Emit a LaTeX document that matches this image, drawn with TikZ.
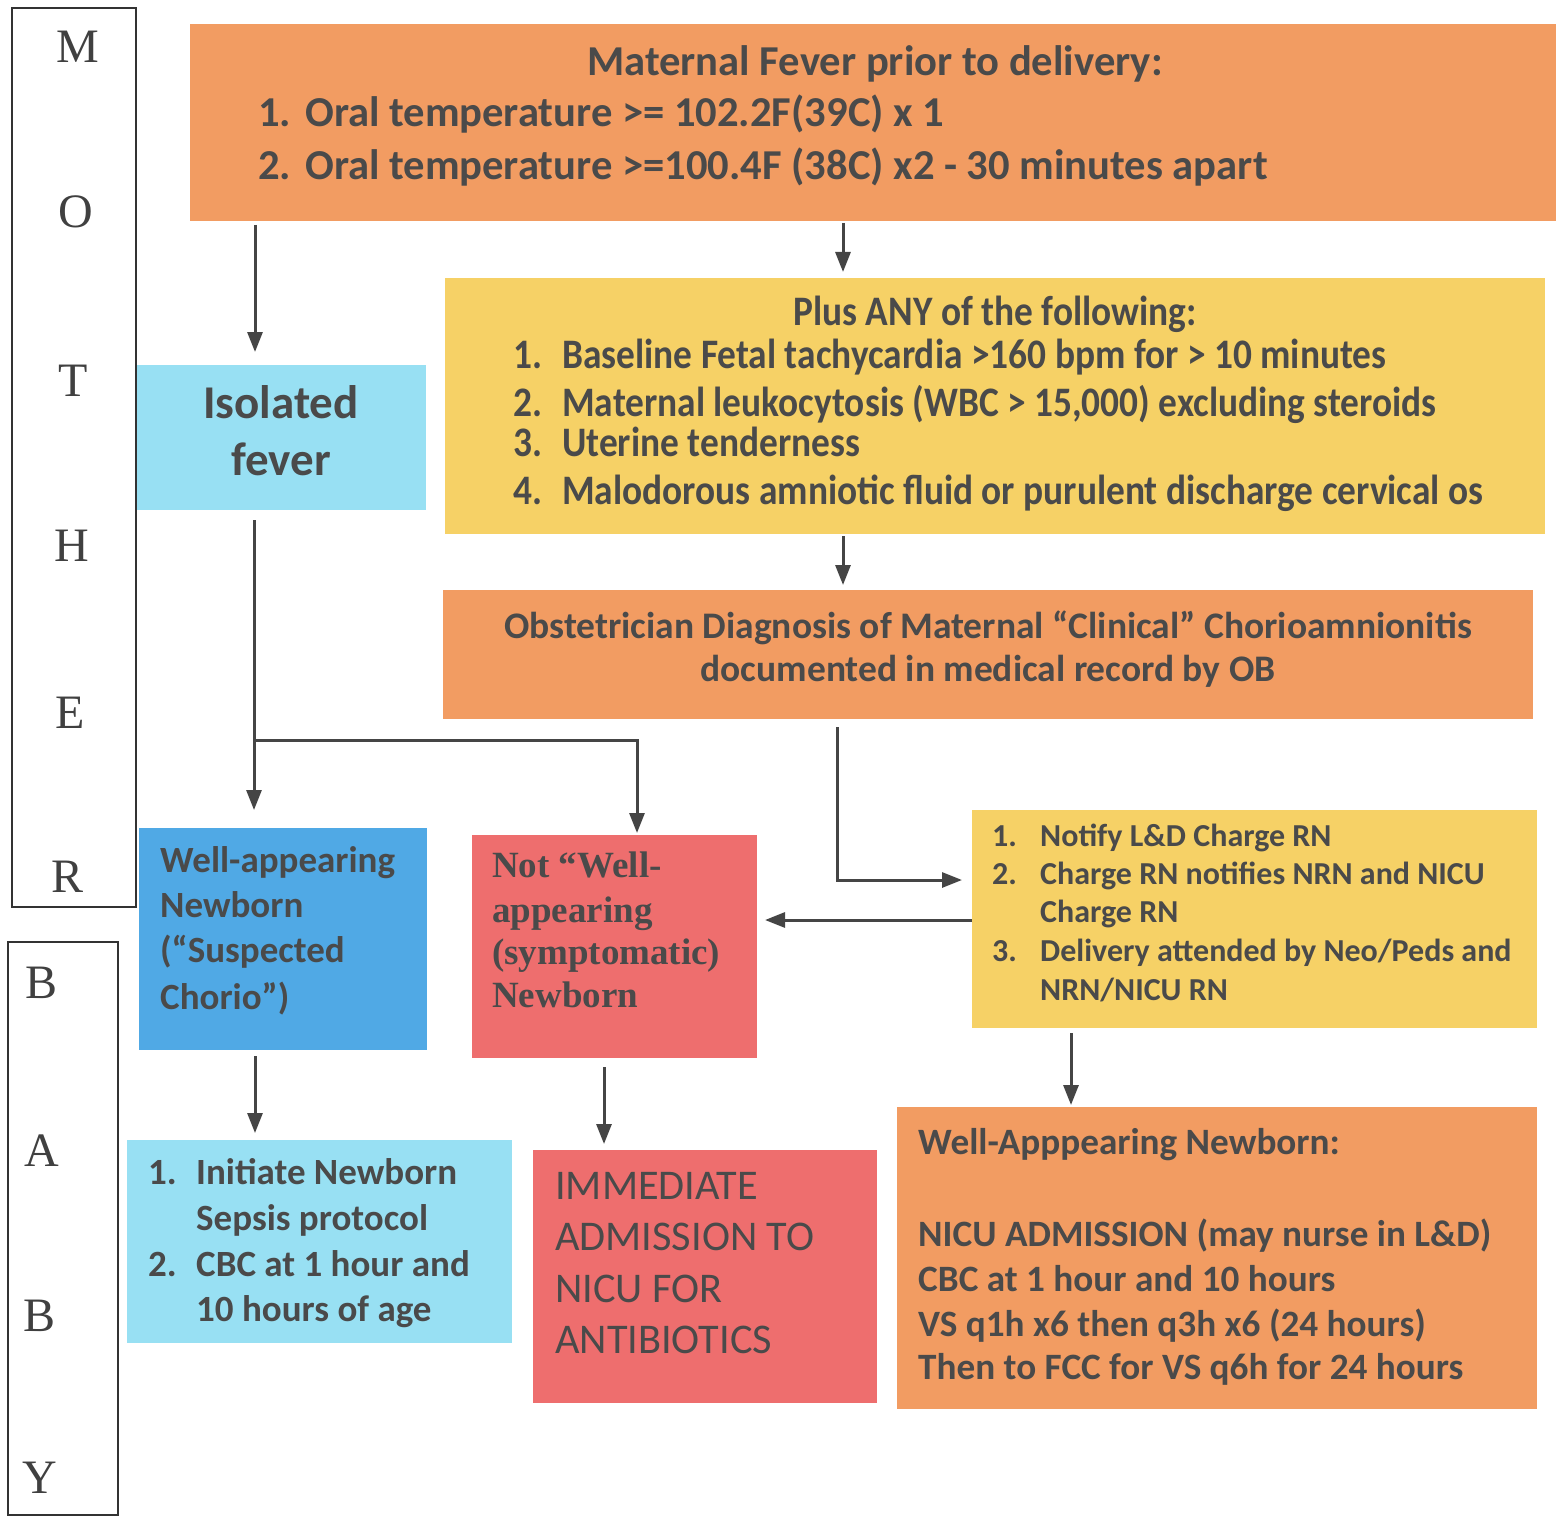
\documentclass[tikz,border=0pt]{standalone}
\usepackage{fontspec}
\setmainfont{Carlito}
\newfontfamily\condfont[FakeStretch=0.89]{Carlito}
\newfontfamily\seriffont{Liberation Serif}
\usetikzlibrary{arrows.meta}

\definecolor{ink}{HTML}{4A4A4A}
\definecolor{lineC}{HTML}{454545}
\definecolor{orangeC}{HTML}{F29C62}
\definecolor{yellowC}{HTML}{F6D166}
\definecolor{skyC}{HTML}{98E0F3}
\definecolor{blueC}{HTML}{50A9E5}
\definecolor{redC}{HTML}{EE6E6E}

\tikzset{
  box/.style={rectangle, inner sep=0pt, outer sep=0pt, anchor=north west},
  band/.style={box, draw=black!80, line width=1.5pt},
  letter/.style={anchor=base, inner sep=0pt, font=\seriffont\fontsize{48}{48}\selectfont, text=black!75},
  txt/.style={anchor=base west, inner sep=0pt, text=ink},
  ctxt/.style={anchor=base, inner sep=0pt, text=ink},
  arr/.style={draw=lineC, line width=3pt, -{Triangle[width=15pt,length=20pt]}},
}

\begin{document}
\begin{tikzpicture}[x=1pt, y=-1pt]
\useasboundingbox (0,0) rectangle (1564,1517);

% side bands
\node[band, minimum width=124pt, minimum height=899pt] (mom) at (12,8) {};
\node[band, minimum width=110pt, minimum height=573pt] (baby) at (8,942) {};
\node[letter] (m1) at (78,63) {M};
\node[letter] (m2) at (76,228) {O};
\node[letter] (m3) at (73,396) {T};
\node[letter] (m4) at (72,561) {H};
\node[letter] (m5) at (70,728) {E};
\node[letter] (m6) at (68,892) {R};
\node[letter] (b1) at (42,998) {B};
\node[letter] (b2) at (42,1166) {A};
\node[letter] (b3) at (40,1331) {B};
\node[letter] (b4) at (40,1493) {Y};

% boxes
\node[box, fill=orangeC, minimum width=1366pt, minimum height=197pt] (top) at (190,24) {};
\node[box, fill=skyC, minimum width=289pt, minimum height=145pt] (iso) at (137,365) {};
\node[box, fill=yellowC, minimum width=1100pt, minimum height=256pt] (plus) at (445,278) {};
\node[box, fill=orangeC, minimum width=1090pt, minimum height=129pt] (obst) at (443,590) {};
\node[box, fill=blueC, minimum width=288pt, minimum height=222pt] (wellapp) at (139,828) {};
\node[box, fill=redC, minimum width=285pt, minimum height=223pt] (notwell) at (472,835) {};
\node[box, fill=yellowC, minimum width=565pt, minimum height=218pt] (yel) at (972,810) {};
\node[box, fill=skyC, minimum width=385pt, minimum height=203pt] (init) at (127,1140) {};
\node[box, fill=redC, minimum width=344pt, minimum height=253pt] (immed) at (533,1150) {};
\node[box, fill=orangeC, minimum width=640pt, minimum height=302pt] (wellb) at (897,1107) {};

% maternal fever
\begin{scope}[every node/.append style={font=\bfseries\fontsize{42.6}{42.6}\selectfont}]
\node[ctxt] (topT) at (875,76) {Maternal Fever prior to delivery:};
\node[txt] (topN1) at (258,127) {1.};
\node[txt] (topL1) at (305,127) {Oral temperature >= 102.2F(39C) x 1};
\node[txt] (topN2) at (258,180) {2.};
\node[txt] (topL2) at (305,180) {Oral temperature >=100.4F (38C) x2 - 30 minutes apart};
\end{scope}

% additional findings
\begin{scope}[every node/.append style={font=\condfont\bfseries\fontsize{42}{42}\selectfont}]
\node[ctxt] (plusT) at (995,325) {Plus ANY of the following:};
\node[txt] (plusN1) at (513,368) {1.};
\node[txt] (plusL1) at (562,368) {Baseline Fetal tachycardia >160 bpm for > 10 minutes};
\node[txt] (plusN2) at (513,416) {2.};
\node[txt] (plusL2) at (562,416) {Maternal leukocytosis (WBC > 15,000) excluding steroids};
\node[txt] (plusN3) at (513,456) {3.};
\node[txt] (plusL3) at (562,456) {Uterine tenderness};
\node[txt] (plusN4) at (513,504) {4.};
\node[txt] (plusL4) at (562,504) {Malodorous amniotic fluid or purulent discharge cervical os};
\end{scope}

% diagnosis
\begin{scope}[every node/.append style={font=\bfseries\fontsize{37.5}{37.5}\selectfont}]
\node[ctxt] (obstL1) at (988,638) {Obstetrician Diagnosis of Maternal “Clinical” Chorioamnionitis};
\node[ctxt] (obstL2) at (988,681) {documented in medical record by OB};
\end{scope}

% isolated fever
\begin{scope}[every node/.append style={font=\bfseries\fontsize{47}{47}\selectfont}]
\node[ctxt] (isoL1) at (281,418) {Isolated};
\node[ctxt] (isoL2) at (281,475) {fever};
\end{scope}

% well-appearing newborn
\begin{scope}[every node/.append style={font=\bfseries\fontsize{37}{37}\selectfont}]
\node[txt] (waL1) at (160,872) {Well-appearing};
\node[txt] (waL2) at (160,917) {Newborn};
\node[txt] (waL3) at (160,962) {(“Suspected};
\node[txt] (waL4) at (160,1009) {Chorio”)};
\end{scope}

% symptomatic newborn
\begin{scope}[every node/.append style={font=\seriffont\bfseries\fontsize{37}{37}\selectfont}]
\node[txt] (nwL1) at (492,877) {Not “Well-};
\node[txt] (nwL2) at (492,922) {appearing};
\node[txt] (nwL3) at (492,964) {(symptomatic)};
\node[txt] (nwL4) at (492,1007) {Newborn};
\end{scope}

% notifications
\begin{scope}[every node/.append style={font=\bfseries\fontsize{32}{32}\selectfont}]
\node[txt] (yN1) at (992,846) {1.};
\node[txt] (yL1) at (1040,846) {Notify L\&D Charge RN};
\node[txt] (yN2) at (992,884) {2.};
\node[txt] (yL2) at (1040,884) {Charge RN notifies NRN and NICU};
\node[txt] (yL2b) at (1040,922) {Charge RN};
\node[txt] (yN3) at (992,961) {3.};
\node[txt] (yL3) at (1040,961) {Delivery attended by Neo/Peds and};
\node[txt] (yL3b) at (1040,1000) {NRN/NICU RN};
\end{scope}

% sepsis protocol
\begin{scope}[every node/.append style={font=\bfseries\fontsize{37}{37}\selectfont}]
\node[txt] (iN1) at (148,1184) {1.};
\node[txt] (iL1) at (196,1184) {Initiate Newborn};
\node[txt] (iL1b) at (196,1230) {Sepsis protocol};
\node[txt] (iN2) at (148,1276) {2.};
\node[txt] (iL2) at (196,1276) {CBC at 1 hour and};
\node[txt] (iL2b) at (196,1321) {10 hours of age};
\end{scope}

% immediate admission
\begin{scope}[every node/.append style={font=\fontsize{42.3}{42.3}\selectfont}]
\node[txt] (imL1) at (555,1199) {IMMEDIATE};
\node[txt] (imL2) at (555,1250) {ADMISSION TO};
\node[txt] (imL3) at (555,1302) {NICU FOR};
\node[txt] (imL4) at (555,1353) {ANTIBIOTICS};
\end{scope}

% well-appearing newborn plan
\begin{scope}[every node/.append style={font=\bfseries\fontsize{37.2}{37.2}\selectfont}]
\node[txt] (wbL1) at (918,1154) {Well-Apppearing Newborn:};
\node[txt] (wbL2) at (918,1246) {NICU ADMISSION (may nurse in L\&D)};
\node[txt] (wbL3) at (918,1291) {CBC at 1 hour and 10 hours};
\node[txt] (wbL4) at (918,1336) {VS q1h x6 then q3h x6 (24 hours)};
\node[txt] (wbL5) at (918,1379) {Then to FCC for VS q6h for 24 hours};
\end{scope}

% connectors
\coordinate (br) at (254,740);
\draw[arr, shorten <=4pt, shorten >=13pt] (top.south -| 255,0) -- (iso.north -| 255,0);
\draw[arr, shorten <=2pt, shorten >=6pt] (top.south -| 843,0) -- (plus.north -| 843,0);
\draw[arr, shorten <=2pt, shorten >=5pt] (plus.south -| 843,0) -- (obst.north -| 843,0);
\draw[arr, shorten <=10pt, shorten >=18pt] (iso.south -| 254,0) -- (wellapp.north -| 254,0);
\draw[arr, shorten >=2pt] (br) -| (notwell.north -| 637,0);
\draw[arr, shorten <=8pt, shorten >=10pt] (obst.south -| 837,0) |- (yel.west |- 0,880);
\draw[arr, shorten >=8pt] (yel.west |- 0,920) -- (notwell.east |- 0,920);
\draw[arr, shorten <=6pt, shorten >=7pt] (wellapp.south -| 255,0) -- (init.north -| 255,0);
\draw[arr, shorten <=9pt, shorten >=6pt] (notwell.south -| 604,0) -- (immed.north -| 604,0);
\draw[arr, shorten <=5pt, shorten >=2pt] (yel.south -| 1071,0) -- (wellb.north -| 1071,0);
\end{tikzpicture}
\end{document}
